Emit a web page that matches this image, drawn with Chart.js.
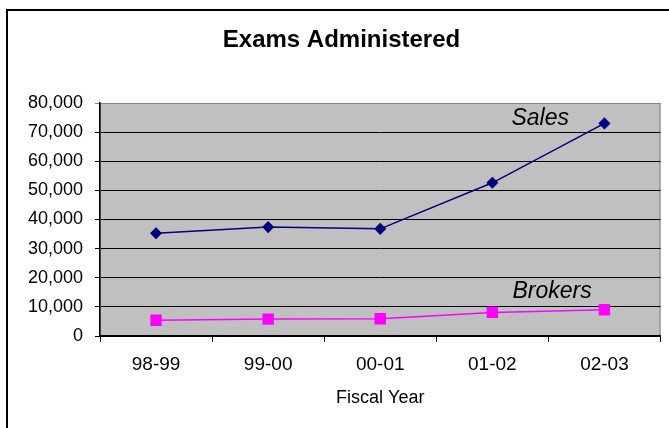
<!DOCTYPE html>
<html>
<head>
<meta charset="utf-8">
<script src="https://cdn.jsdelivr.net/npm/chart.js@4/dist/chart.umd.min.js"></script>
<style>
  html, body { margin: 0; padding: 0; background: #fff; }
  #grafico { display: block; }
</style>
</head>
<body>
<canvas id="grafico" width="669" height="428"></canvas>
<script>
// dados
const anosFiscais = ["98-99", "99-00", "00-01", "01-02", "02-03"];
const vendas = [35300, 37400, 36800, 52600, 73000];
const corretores = [5400, 5800, 5900, 8100, 9000];
const marcasY = [0, 10000, 20000, 30000, 40000, 50000, 60000, 70000, 80000];

const fonte = "'Liberation Sans', Arial, sans-serif";

// fundo cinza da area do grafico + moldura
const fundoPlot = {
    id: 'fundoPlot',
    beforeDraw(chart) {
        const { ctx, chartArea: a } = chart;
        ctx.save();
        ctx.fillStyle = '#C0C0C0';
        ctx.fillRect(a.left, a.top, a.right - a.left, a.bottom - a.top);
        ctx.strokeStyle = '#808080';
        ctx.lineWidth = 1;
        ctx.strokeRect(a.left + 0.5, a.top + 0.5, a.right - a.left - 1, a.bottom - a.top);
        // borda externa (so topo e esquerda aparecem)
        ctx.strokeStyle = '#000';
        ctx.lineWidth = 2;
        ctx.beginPath();
        ctx.moveTo(7, 440);
        ctx.lineTo(7, 10);
        ctx.lineTo(680, 10);
        ctx.stroke();
        ctx.restore();
    }
};

// rotulos "Sales" e "Brokers" ao lado das linhas
const rotulosSeries = {
    id: 'rotulosSeries',
    afterDatasetsDraw(chart) {
        const { ctx, scales: { x, y } } = chart;
        const ultimo = anosFiscais.length - 1;
        const px = x.getPixelForValue(ultimo);
        ctx.save();
        ctx.font = "italic 23px " + fonte;
        ctx.fillStyle = '#000';
        ctx.textAlign = 'left';
        ctx.textBaseline = 'middle';
        ctx.fillText('Sales', px - 93, y.getPixelForValue(vendas[ultimo]) - 5);
        ctx.fillText('Brokers', px - 92, y.getPixelForValue(corretores[ultimo]) - 18);
        ctx.restore();
    }
};

new Chart(document.getElementById('grafico'), {
    type: 'line',
    data: {
        labels: anosFiscais,
        datasets: [{
            label: 'Sales',
            data: vendas,
            borderColor: '#000080',
            backgroundColor: '#000080',
            borderWidth: 1.5,
            pointStyle: 'rectRot',
            pointRadius: 5,
            pointHoverRadius: 5
        }, {
            label: 'Brokers',
            data: corretores,
            borderColor: '#FF00FF',
            backgroundColor: '#FF00FF',
            borderWidth: 1.5,
            pointStyle: 'rect',
            pointRadius: 7,
            pointHoverRadius: 7
        }]
    },
    options: {
        responsive: false,
        animation: false,
        devicePixelRatio: 1,
        layout: { padding: { left: 21, right: 7, top: 0, bottom: 0 } },
        plugins: {
            legend: { display: false },
            tooltip: { enabled: false },
            title: {
                display: true,
                text: 'Exams Administered',
                color: '#000',
                font: { family: fonte, size: 24, weight: 'bold' },
                padding: { top: 26, bottom: 48.2 }
            }
        },
        scales: {
            x: {
                offset: true,
                grid: { offset: true, drawOnChartArea: false, color: '#000', tickLength: 6 },
                border: { color: '#000', width: 1.5 },
                ticks: { color: '#000', font: { family: fonte, size: 19 }, padding: 11, maxRotation: 0 },
                title: {
                    display: true,
                    text: 'Fiscal Year',
                    color: '#000',
                    font: { family: fonte, size: 18 },
                    padding: { top: 0, bottom: 19 }
                },
                afterFit(s) { s.height = 92; }
            },
            y: {
                min: 0,
                max: 80000,
                afterBuildTicks(s) { s.ticks = marcasY.map(v => ({ value: v })); },
                grid: {
                    color: c => (c.tick && c.tick.value === 80000) ? '#808080' : '#000',
                    tickLength: 5
                },
                border: { color: '#000', width: 1.5 },
                ticks: {
                    color: '#000',
                    font: { family: fonte, size: 18 },
                    padding: 12,
                    callback: v => v.toLocaleString('en-US')
                },
                afterFit(s) { s.width = 79; }
            }
        }
    },
    plugins: [fundoPlot, rotulosSeries]
});
</script>
</body>
</html>
